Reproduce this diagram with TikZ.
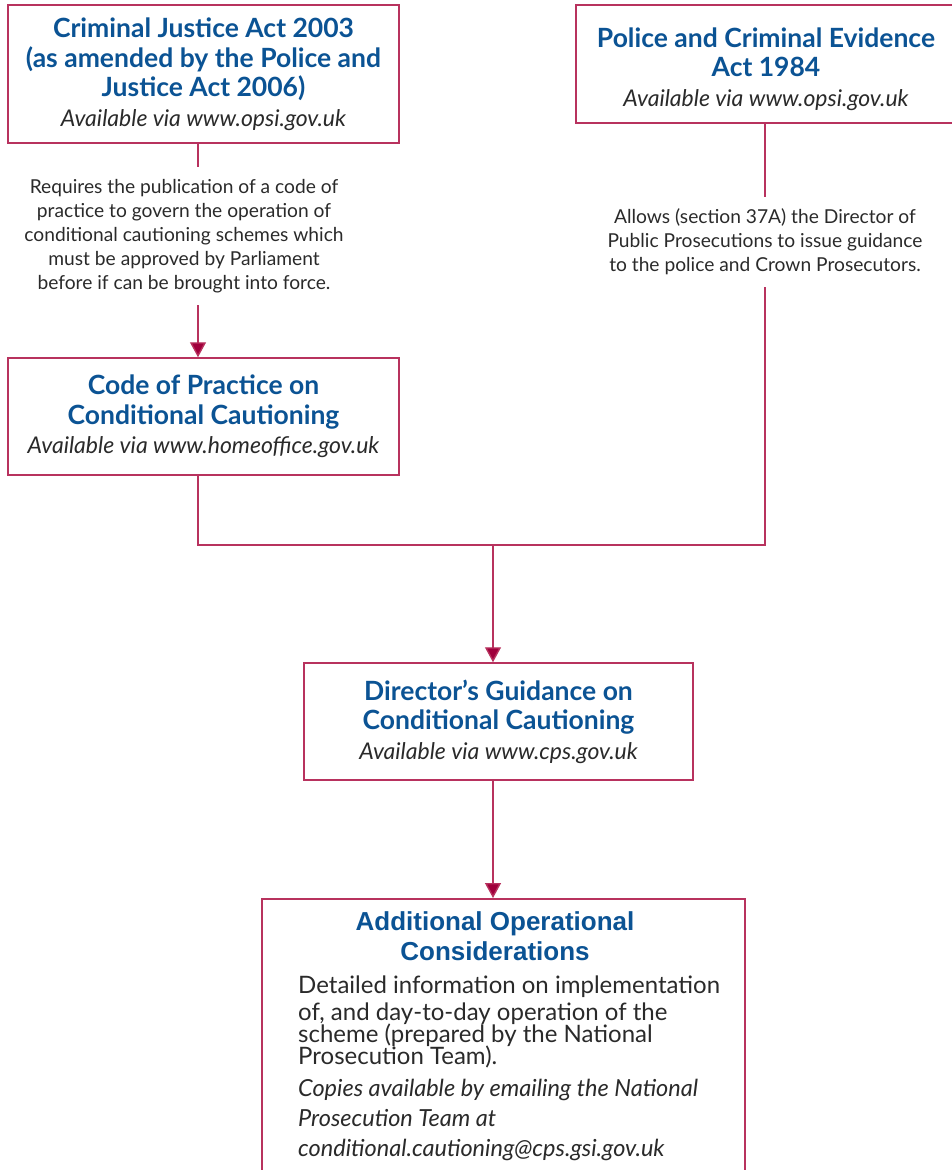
\documentclass[tikz,border=0pt]{standalone}
\usepackage{fontspec}
\setmainfont{Lato}
\newfontfamily\arialbf{Liberation Sans}
\usetikzlibrary{arrows.meta}
\definecolor{boxred}{HTML}{B8325E}
\definecolor{arrred}{HTML}{A0003C}
\definecolor{titleblue}{HTML}{0B5394}
\definecolor{txtgrey}{HTML}{2A2A2A}
\newcommand{\ttlf}{\fontsize{26.5}{29.5}\selectfont\bfseries\color{titleblue}}
\newcommand{\avf}{\fontsize{23}{29}\selectfont\itshape\color{txtgrey}}
\newcommand{\nolsk}{\lineskiplimit=-20pt\relax}
\tikzset{
  box/.style={draw=boxred, line width=1.5pt, fill=white, align=center, inner sep=0pt, text=txtgrey, font=\fontsize{22.5}{29.5}\selectfont\nolsk},
  note/.style={align=center, inner sep=0pt, text=txtgrey, font=\fontsize{19.2}{24}\selectfont\nolsk},
  conn/.style={draw=boxred, line width=1.4pt},
  arr/.style={conn, -{Triangle[width=16pt,length=15pt,fill=arrred]}},
}
\begin{document}
\begin{tikzpicture}[x=1pt,y=-1pt]
\useasboundingbox (0,0) rectangle (952,1170);
\clip (0,0) rectangle (952,1170);

% boxes
\node[box, minimum width=391pt, minimum height=138pt] (cja) at (203.5,74)
  {\ttlf Criminal Justice Act 2003\\\ttlf (as amended by the Police and\\\ttlf Justice Act 2006)\\\avf Available via www.opsi.gov.uk};
\node[box, minimum width=380pt, minimum height=118pt] (pace) at (766,64)
  {\ttlf\rule{0pt}{30pt}Police and Criminal Evidence\\\ttlf Act 1984\\\avf Available via www.opsi.gov.uk};
\node[box, minimum width=391pt, minimum height=117pt] (cop) at (203.5,416.5)
  {\ttlf Code of Practice on\\\ttlf Conditional Cautioning\\\avf Available via www.homeoffice.gov.uk};
\node[box, minimum width=389pt, minimum height=117pt] (dg) at (498.5,721.5)
  {\ttlf Director's Guidance on\\\ttlf Conditional Cautioning\\\avf Available via www.cps.gov.uk};

% bottom box (runs past the bottom edge)
\node[box, minimum width=483pt, minimum height=300pt, anchor=north] (aoc) at (503.5,898) {};
\node[anchor=north, align=center, inner sep=0pt, font=\arialbf\fontsize{26}{30}\selectfont\bfseries\nolsk, text=titleblue] (aoct) at (495,911)
  {Additional Operational\\Considerations};
\node[anchor=north west, align=left, inner sep=0pt, text=txtgrey, font=\fontsize{24}{22}\selectfont\nolsk] (aocb) at (298,976)
  {Detailed information on implementation\\[5pt]of, and day-to-day operation of the\\scheme (prepared by the National\\Prosecution Team).};
\node[anchor=north west, align=left, inner sep=0pt, text=txtgrey, font=\fontsize{23.5}{30}\selectfont\itshape\nolsk] (aoci) at (298,1079)
  {Copies available by emailing the National\\Prosecution Team at\\conditional.cautioning@cps.gsi.gov.uk};

% notes
\node[note, inner ysep=12pt] (n1) at (184,236)
  {Requires the publication of a code of\\practice to govern the operation of\\conditional cautioning schemes which\\must be approved by Parliament\\before if can be brought into force.};
\node[note, inner ysep=12pt] (n2) at (765,242)
  {Allows (section 37A) the Director of\\Public Prosecutions to issue guidance\\to the police and Crown Prosecutors.};

% connectors
\coordinate (jl) at (198,545);
\coordinate (jr) at (765,545);
\coordinate (jm) at (493,545);
\draw[conn] (cja.south -| jl) -- (n1.north -| jl);
\draw[arr] (n1.south -| jl) -- (cop.north -| jl);
\draw[conn] (pace.south -| jr) -- (n2.north -| jr);
\draw[conn] (n2.south -| jr) -- (jr) -- (jl) -- (cop.south -| jl);
\draw[arr] (jm) -- (dg.north -| jm);
\draw[arr] (dg.south -| jm) -- (aoc.north -| jm);
\end{tikzpicture}
\end{document}
